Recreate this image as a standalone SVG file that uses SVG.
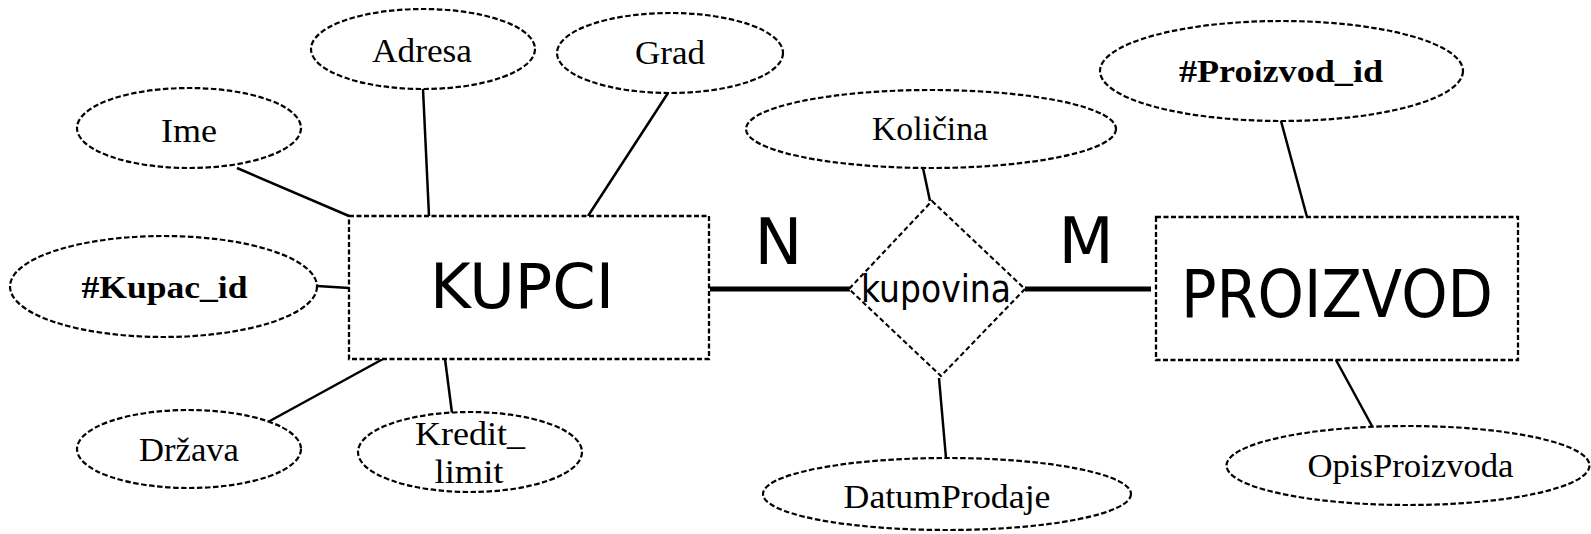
<svg xmlns="http://www.w3.org/2000/svg" width="1591" height="534" viewBox="0 0 1591 534">
<style>
.attr{fill:#fff;stroke:#000;stroke-width:2.2;stroke-dasharray:5.5 2.5}
.ent{fill:#fff;stroke:#000;stroke-width:2.3;stroke-dasharray:5 2.5}
.rel{fill:#fff;stroke:#000;stroke-width:2.1;stroke-dasharray:5 3}
.ln{stroke:#000;stroke-width:2.5;fill:none}
.thick{stroke:#000;stroke-width:5;fill:none}
.st{font-family:"Liberation Serif","Times New Roman",serif;font-size:34px;fill:#000;text-anchor:middle}
.sb{font-family:"Liberation Serif","Times New Roman",serif;font-size:32px;font-weight:bold;fill:#000;text-anchor:middle}
.ss{font-family:"DejaVu Sans",Verdana,sans-serif;fill:#000;text-anchor:middle}
</style>
<rect width="1591" height="534" fill="#fff"/>
<g id="connectors">
<line class="ln" x1="237" y1="168" x2="349" y2="216"/>
<line class="ln" x1="423" y1="89" x2="429" y2="216"/>
<line class="ln" x1="668" y1="93" x2="588" y2="216"/>
<line class="ln" x1="317" y1="286" x2="349" y2="288"/>
<line class="ln" x1="383" y1="359" x2="268" y2="422"/>
<line class="ln" x1="445" y1="359" x2="452" y2="413"/>
<line class="ln" x1="923" y1="168" x2="930" y2="201"/>
<line class="ln" x1="939" y1="378" x2="946" y2="458"/>
<line class="ln" x1="1281" y1="121" x2="1307" y2="217"/>
<line class="ln" x1="1336" y1="360" x2="1372" y2="426"/>
<line class="thick" x1="710" y1="289" x2="850" y2="289"/>
<line class="thick" x1="1025" y1="289" x2="1151" y2="289"/>
</g>
<g id="card-n"><text class="ss" x="778.5" y="264" font-size="64">N</text></g>
<g id="card-m"><text class="ss" x="1086" y="263" font-size="64">M</text></g>
<g id="kupci">
<rect class="ent" x="349" y="216" width="360" height="143"/>
<text class="ss" x="522" y="308" font-size="63" textLength="184" lengthAdjust="spacingAndGlyphs">KUPCI</text>
</g>
<g id="proizvod">
<rect class="ent" x="1156" y="217" width="362" height="143"/>
<text class="ss" x="1337" y="317" font-size="66" textLength="312" lengthAdjust="spacingAndGlyphs">PROIZVOD</text>
</g>
<g id="kupovina">
<polygon class="rel" points="932,201 1025,289 941,376 849,289"/>
<text class="ss" x="936" y="302" font-size="37" textLength="150" lengthAdjust="spacingAndGlyphs">kupovina</text>
</g>
<g id="ime">
<ellipse class="attr" cx="189" cy="128" rx="112" ry="40"/>
<text class="st" x="189" y="142" textLength="56" lengthAdjust="spacingAndGlyphs">Ime</text>
</g>
<g id="adresa">
<ellipse class="attr" cx="423" cy="49" rx="112" ry="40"/>
<text class="st" x="422" y="62" textLength="100" lengthAdjust="spacingAndGlyphs">Adresa</text>
</g>
<g id="grad">
<ellipse class="attr" cx="670" cy="53" rx="113" ry="40"/>
<text class="st" x="670" y="64" textLength="70" lengthAdjust="spacingAndGlyphs">Grad</text>
</g>
<g id="kupac-id">
<ellipse class="attr" cx="163.5" cy="286.5" rx="153.5" ry="50.5"/>
<text class="sb" x="164.5" y="298" textLength="166" lengthAdjust="spacingAndGlyphs">#Kupac_id</text>
</g>
<g id="drzava">
<ellipse class="attr" cx="189" cy="449" rx="112" ry="39"/>
<text class="st" x="189" y="461" textLength="100" lengthAdjust="spacingAndGlyphs">Država</text>
</g>
<g id="kredit-limit">
<ellipse class="attr" cx="470" cy="452" rx="112" ry="40"/>
<text class="st" x="470" y="445" textLength="110" lengthAdjust="spacingAndGlyphs">Kredit_</text>
<text class="st" x="469" y="483" textLength="69" lengthAdjust="spacingAndGlyphs">limit</text>
</g>
<g id="kolicina">
<ellipse class="attr" cx="931" cy="129" rx="185" ry="39"/>
<text class="st" x="930" y="140" textLength="116" lengthAdjust="spacingAndGlyphs">Količina</text>
</g>
<g id="datum-prodaje">
<ellipse class="attr" cx="947" cy="494" rx="184" ry="36"/>
<text class="st" x="947" y="508" textLength="207" lengthAdjust="spacingAndGlyphs">DatumProdaje</text>
</g>
<g id="proizvod-id">
<ellipse class="attr" cx="1281.5" cy="71" rx="181.5" ry="50"/>
<text class="sb" x="1281" y="82" textLength="204" lengthAdjust="spacingAndGlyphs">#Proizvod_id</text>
</g>
<g id="opis-proizvoda">
<ellipse class="attr" cx="1408" cy="465.5" rx="181.5" ry="39.5"/>
<text class="st" x="1410.5" y="477" textLength="206" lengthAdjust="spacingAndGlyphs">OpisProizvoda</text>
</g>
</svg>
